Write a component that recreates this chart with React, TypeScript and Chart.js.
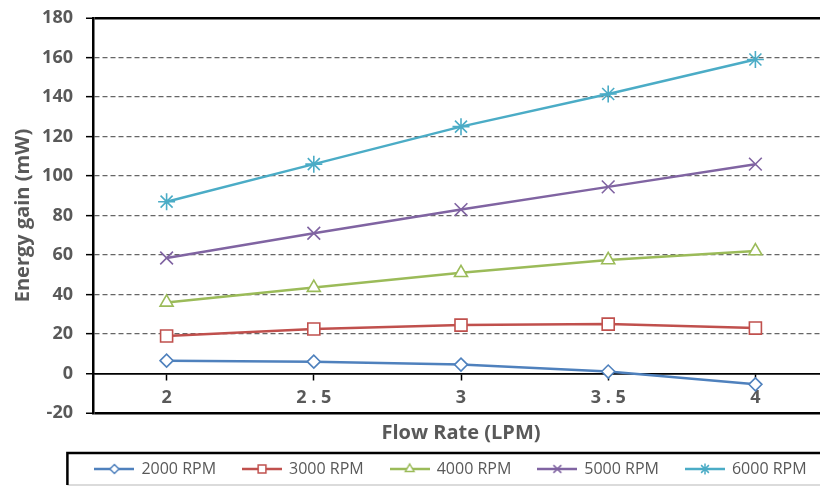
import React, { useEffect, useRef } from 'react';
import { Chart, registerables } from 'chart.js';

Chart.register(...registerables);

// ---- data ----
const flowRates = ['2', '2.5', '3', '3.5', '4'];
const rpm2000 = [6.5, 6, 4.5, 1, -5.5];
const rpm3000 = [19, 22.5, 24.5, 25, 23];
const rpm4000 = [36, 43.5, 51, 57.5, 62];
const rpm5000 = [58.5, 71, 83, 94.5, 106];
const rpm6000 = [87, 106, 125, 141.5, 159];
const seriesNames = ['2000 RPM', '3000 RPM', '4000 RPM', '5000 RPM', '6000 RPM'];
const yMin = -20;
const yMax = 180;
const yStep = 20;

const colors = ['#4F81BD', '#C0504D', '#9BBB59', '#8064A2', '#4BACC6'];
const markers = ['rectRot', 'rect', 'triangle', 'crossRot', 'star'];
const markerRadius = [6.5, 8.5, 7.5, 9, 8.5];
const legendMarkerRadius = [4.5, 5.5, 5, 5.5, 5.5];

const FONT = "'Open Sans', Lato, sans-serif";
const GRAY = '#595959';

function drawMarker(g: CanvasRenderingContext2D, style: string, x: number, y: number, r: number) {
  g.beginPath();
  if (style === 'rectRot') {
    g.moveTo(x, y - r); g.lineTo(x + r, y); g.lineTo(x, y + r); g.lineTo(x - r, y); g.closePath();
    g.fill(); g.stroke();
  } else if (style === 'rect') {
    const s = r * Math.SQRT1_2;
    g.rect(x - s, y - s, 2 * s, 2 * s); g.fill(); g.stroke();
  } else if (style === 'triangle') {
    g.moveTo(x, y - r);
    g.lineTo(x + r * 0.866, y + r * 0.5);
    g.lineTo(x - r * 0.866, y + r * 0.5);
    g.closePath(); g.fill(); g.stroke();
  } else if (style === 'crossRot') {
    const d = r * Math.SQRT1_2;
    g.moveTo(x - d, y - d); g.lineTo(x + d, y + d);
    g.moveTo(x - d, y + d); g.lineTo(x + d, y - d); g.stroke();
  } else if (style === 'star') {
    const d = r * Math.SQRT1_2;
    g.moveTo(x - d, y - d); g.lineTo(x + d, y + d);
    g.moveTo(x - d, y + d); g.lineTo(x + d, y - d);
    g.moveTo(x, y - r); g.lineTo(x, y + r); g.stroke();
  }
}

function makeLegendIcon(color: string, style: string, r: number) {
  const c = document.createElement('canvas');
  c.width = 40; c.height = 18;
  const g = c.getContext('2d') as CanvasRenderingContext2D;
  g.strokeStyle = color; g.lineWidth = 2.5;
  g.beginPath(); g.moveTo(0, 9); g.lineTo(40, 9); g.stroke();
  g.lineWidth = 1.5; g.fillStyle = '#ffffff';
  drawMarker(g, style, 20, 9, r);
  return c;
}

const LEGEND_PAD = 27;
const LEGEND_FONT = 16;

const legendFrame = {
  id: 'legendFrame',
  afterDraw(chart: any) {
    const lg = chart.legend;
    if (!lg || !lg.lineWidths) return;
    const ctx = chart.ctx;
    const vis = lg.lineWidths[0] - LEGEND_PAD;
    const cx = (lg.left + lg.right) / 2;
    const left = cx - vis / 2 - 28;
    const right = cx + vis / 2 + 28;
    const cy = lg.top + LEGEND_PAD + LEGEND_FONT / 2;
    const top = cy - 16;
    const bottom = cy + 16;
    ctx.save();
    ctx.strokeStyle = '#d0d0d0';
    ctx.lineWidth = 1.5;
    ctx.beginPath();
    ctx.moveTo(left, bottom); ctx.lineTo(right, bottom); ctx.lineTo(right, top);
    ctx.stroke();
    ctx.strokeStyle = '#000000';
    ctx.lineWidth = 2.5;
    ctx.beginPath();
    ctx.moveTo(left, bottom); ctx.lineTo(left, top); ctx.lineTo(right, top);
    ctx.stroke();
    ctx.restore();
  },
};

export default function App() {
  const ref = useRef<HTMLCanvasElement | null>(null);

  useEffect(() => {
    if (!ref.current) return;
    const seriesValues = [rpm2000, rpm3000, rpm4000, rpm5000, rpm6000];
    const icons = colors.map((c, i) => makeLegendIcon(c, markers[i], legendMarkerRadius[i]));
    const solidValues = [yMin, 0, yMax];

    const chart = new Chart(ref.current, {
      type: 'line',
      data: {
        labels: flowRates,
        datasets: seriesValues.map((vals, i) => ({
          label: seriesNames[i],
          data: vals,
          xAxisID: 'x',
          yAxisID: 'y',
          borderColor: colors[i],
          backgroundColor: '#ffffff',
          borderWidth: 2.5,
          pointStyle: markers[i] as any,
          pointRadius: markerRadius[i],
          pointBorderWidth: 1.6,
          pointBorderColor: colors[i],
          pointBackgroundColor: '#ffffff',
          tension: 0,
          fill: false,
        })),
      },
      plugins: [legendFrame],
      options: {
        responsive: false,
        animation: false,
        devicePixelRatio: 1,
        events: [],
        layout: { padding: { left: 0, top: 18, right: 0, bottom: 0 } },
        scales: {
          x: {
            type: 'category',
            position: { y: 0 } as any,
            offset: true,
            afterFit: (s: any) => { s.paddingTop = 0; s.paddingBottom = 0; },
            grid: {
              offset: false,
              drawOnChartArea: false,
              drawTicks: true,
              tickLength: 6,
              tickColor: '#000000',
              tickWidth: 1.5,
              color: '#000000',
            },
            border: { display: true, color: '#000000', width: 1.5 },
            ticks: {
              autoSkip: false,
              maxRotation: 0,
              padding: 8,
              color: GRAY,
              font: { family: FONT, size: 18, weight: 'bold' },
              callback: (_v: any, i: number) => flowRates[i].split('').join(' '),
            },
          },
          x2: {
            type: 'category',
            axis: 'x',
            labels: flowRates,
            position: 'bottom',
            grid: { display: false, drawTicks: false },
            border: { display: false },
            ticks: { display: false },
            title: {
              display: true,
              text: 'Flow Rate (LPM)',
              color: GRAY,
              font: { family: FONT, size: 20, weight: 'bold', lineHeight: 1 },
              padding: { top: 10, bottom: -9 },
            },
          },
          y: {
            type: 'linear',
            position: 'left',
            min: yMin,
            max: yMax,
            afterFit: (s: any) => { s.width = 93; s.paddingTop = 4; s.paddingBottom = 4; },
            ticks: {
              stepSize: yStep,
              padding: 13,
              color: GRAY,
              font: { family: FONT, size: 18, weight: 'bold' },
            },
            grid: {
              drawTicks: true,
              tickLength: 7,
              tickColor: '#000000',
              tickWidth: 1.5,
              tickBorderDash: [],
              color: (c: any) => (c.tick && solidValues.includes(c.tick.value) ? '#000000' : '#666666'),
              lineWidth: (c: any) => {
                if (!c.tick) return 1;
                if (c.tick.value === yMin || c.tick.value === yMax) return 2.5;
                if (c.tick.value === 0) return 1.5;
                return 1.3;
              },
            },
            border: {
              display: true,
              color: '#000000',
              width: 2.5,
              dash: (c: any) => (c.type === 'tick' && c.tick && !solidValues.includes(c.tick.value) ? [5, 3] : []),
            } as any,
            title: {
              display: true,
              text: 'Energy gain (mW)',
              color: GRAY,
              font: { family: FONT, size: 20, weight: 'bold', lineHeight: 1.2 },
              padding: { top: 11, bottom: 4 },
            },
          },
          y2: {
            type: 'linear',
            position: 'right',
            display: true,
            grid: { display: false, drawTicks: false },
            border: { display: false },
            ticks: { display: false },
            afterFit: (s: any) => { s.width = 73; },
          },
        },
        plugins: {
          tooltip: { enabled: false },
          title: { display: false },
          legend: {
            display: true,
            position: 'bottom',
            align: 'center',
            labels: {
              usePointStyle: true,
              pointStyleWidth: 38,
              padding: LEGEND_PAD,
              color: GRAY,
              font: { family: FONT, size: LEGEND_FONT },
              generateLabels: (ch: any) =>
                ch.data.datasets.map((ds: any, i: number) => ({
                  text: ds.label,
                  fillStyle: colors[i],
                  strokeStyle: colors[i],
                  lineWidth: 0,
                  pointStyle: icons[i],
                  hidden: false,
                  datasetIndex: i,
                  fontColor: GRAY,
                })),
            },
          },
        },
      } as any,
    });
    return () => chart.destroy();
  }, []);

  return (
    <div
      style={{
        position: 'fixed',
        left: 0,
        top: 0,
        width: 820,
        height: 487,
        overflow: 'hidden',
        background: '#ffffff',
      }}
    >
      <canvas ref={ref} width={902} height={487} style={{ display: 'block', width: 902, height: 487 }} />
    </div>
  );
}
